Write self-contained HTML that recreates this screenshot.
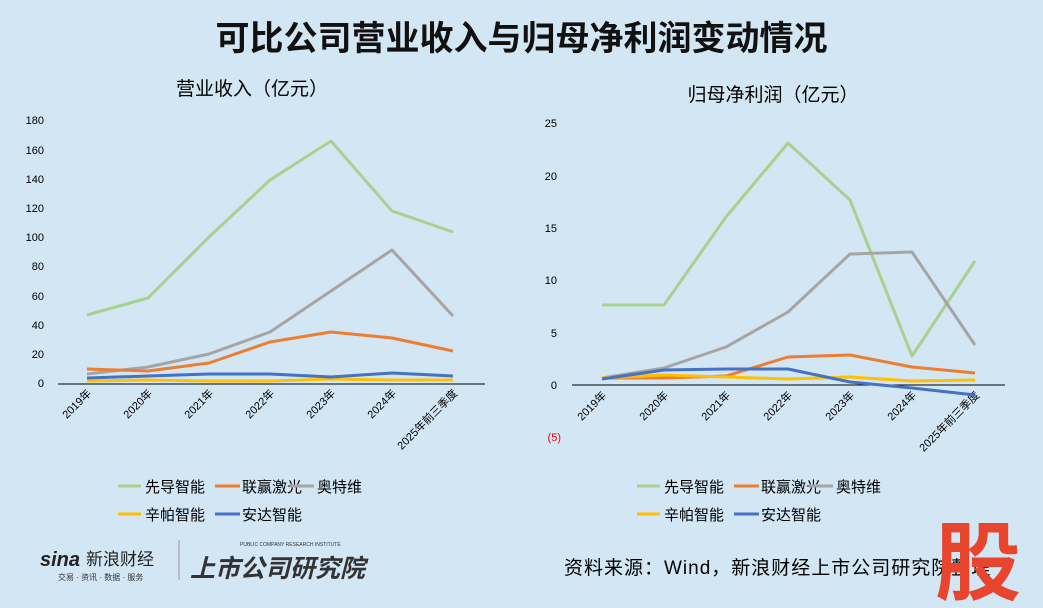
<!DOCTYPE html>
<html><head><meta charset="utf-8"><style>
body{margin:0;width:1043px;height:608px;background:#d2e6f4;overflow:hidden;position:relative;font-family:"Liberation Sans","Noto Sans CJK SC",sans-serif}
.t{position:absolute;white-space:nowrap}
</style></head><body>
<div class="t" style="left:0;width:1043px;text-align:center;top:11px;font-size:34px;font-weight:bold;color:#111">可比公司营业收入与归母净利润变动情况</div>
<svg width="1043" height="608" style="position:absolute;left:0;top:0" font-family="Liberation Sans, Noto Sans CJK SC, sans-serif">
<text x="252" y="95" font-size="19" text-anchor="middle">营业收入（亿元）</text>
<text x="773" y="101" font-size="19" text-anchor="middle">归母净利润（亿元）</text>
<g font-size="11" text-anchor="end">
<text x="44" y="387">0</text><text x="44" y="358">20</text><text x="44" y="329">40</text><text x="44" y="300">60</text><text x="44" y="270">80</text><text x="44" y="241">100</text><text x="44" y="212">120</text><text x="44" y="183">140</text><text x="44" y="154">160</text><text x="44" y="124">180</text>
<text x="557" y="389">0</text><text x="557" y="337">5</text><text x="557" y="284">10</text><text x="557" y="232">15</text><text x="557" y="180">20</text><text x="557" y="127">25</text>
<text x="561" y="441" fill="#e00">(5)</text>
</g>
<line x1="58" y1="384" x2="485" y2="384" stroke="#000" stroke-width="1"/>
<line x1="572" y1="385" x2="1005" y2="385" stroke="#000" stroke-width="1"/>
<g font-size="11" text-anchor="end">
<text transform="translate(92,394) rotate(-45)">2019年</text><text transform="translate(153,394) rotate(-45)">2020年</text><text transform="translate(214,394) rotate(-45)">2021年</text><text transform="translate(275,394) rotate(-45)">2022年</text><text transform="translate(336,394) rotate(-45)">2023年</text><text transform="translate(397,394) rotate(-45)">2024年</text><text transform="translate(458,394) rotate(-45)">2025年前三季度</text>
<text transform="translate(607,396) rotate(-45)">2019年</text><text transform="translate(669,396) rotate(-45)">2020年</text><text transform="translate(731,396) rotate(-45)">2021年</text><text transform="translate(793,396) rotate(-45)">2022年</text><text transform="translate(855,396) rotate(-45)">2023年</text><text transform="translate(917,396) rotate(-45)">2024年</text><text transform="translate(980,396) rotate(-45)">2025年前三季度</text>
</g>
<g fill="none" stroke-width="3" stroke-linejoin="round">
<polyline stroke="#a9d18e" points="87,315 148,298 209,237 270,180 331,141 392,211 453,232"/>
<polyline stroke="#a5a5a5" points="87,374 148,367 209,354 270,332 331,291 392,250 453,316"/>
<polyline stroke="#ed7d31" points="87,369 148,371 209,363 270,342 331,332 392,338 453,351"/>
<polyline stroke="#ffc000" points="87,381 148,380 209,381 270,381 331,379 392,380 453,380"/>
<polyline stroke="#4472c4" points="87,378 148,376 209,374 270,374 331,377 392,373 453,376"/>
<polyline stroke="#a9d18e" points="602,305 664,305 726,217 788,143 850,200 912,356 975,261"/>
<polyline stroke="#a5a5a5" points="602,378 664,368 726,347 788,312 850,254 912,252 975,345"/>
<polyline stroke="#ed7d31" points="602,378 664,378 726,376 788,357 850,355 912,367 975,373"/>
<polyline stroke="#ffc000" points="602,378 664,375 726,377 788,379 850,377 912,381 975,380"/>
<polyline stroke="#4472c4" points="602,379 664,370 726,369 788,369 850,382 912,388 975,395"/>
</g>
<g font-size="15">
<line x1="118" y1="486" x2="141" y2="486" stroke="#a9d18e" stroke-width="3"/><text x="145" y="492">先导智能</text>
<line x1="215" y1="486" x2="240" y2="486" stroke="#ed7d31" stroke-width="3"/><text x="242" y="492">联赢激光</text>
<line x1="290" y1="486" x2="314" y2="486" stroke="#a5a5a5" stroke-width="3"/><text x="317" y="492">奥特维</text>
<line x1="118" y1="514" x2="141" y2="514" stroke="#ffc000" stroke-width="3"/><text x="145" y="520">辛帕智能</text>
<line x1="215" y1="514" x2="240" y2="514" stroke="#4472c4" stroke-width="3"/><text x="242" y="520">安达智能</text>
<line x1="637" y1="486" x2="660" y2="486" stroke="#a9d18e" stroke-width="3"/><text x="664" y="492">先导智能</text>
<line x1="734" y1="486" x2="759" y2="486" stroke="#ed7d31" stroke-width="3"/><text x="761" y="492">联赢激光</text>
<line x1="809" y1="486" x2="833" y2="486" stroke="#a5a5a5" stroke-width="3"/><text x="836" y="492">奥特维</text>
<line x1="637" y1="514" x2="660" y2="514" stroke="#ffc000" stroke-width="3"/><text x="664" y="520">辛帕智能</text>
<line x1="734" y1="514" x2="759" y2="514" stroke="#4472c4" stroke-width="3"/><text x="761" y="520">安达智能</text>
</g>
<text x="40" y="566" font-size="20" font-weight="bold" font-style="italic" fill="#222">sina</text>
<text x="86" y="565" font-size="17" fill="#222">新浪财经</text>
<text x="58" y="580" font-size="8" fill="#333">交易 · 资讯 · 数据 · 服务</text>
<line x1="179" y1="540" x2="179" y2="580" stroke="#999"/>
<text x="190" y="577" font-size="25" font-weight="bold" font-style="italic" fill="#333">上市公司研究院</text>
<text x="240" y="546" font-size="5" fill="#333">PUBLIC COMPANY RESEARCH INSTITUTE</text>
<text x="564" y="574" font-size="19" fill="#000" letter-spacing="1">资料来源：Wind，新浪财经上市公司研究院整理</text>
<text x="935" y="593" font-size="86" font-weight="bold" fill="#e8452f">股</text>
</svg>
</body></html>
